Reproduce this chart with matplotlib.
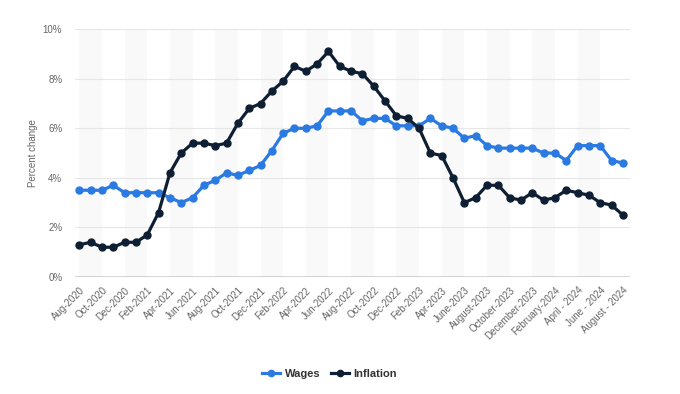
import matplotlib
matplotlib.use("Agg")
import matplotlib.pyplot as plt
import numpy as np

plt.rcParams['font.family'] = ['Liberation Sans', 'DejaVu Sans']

months = ['Aug-2020', 'Sep-2020', 'Oct-2020', 'Nov-2020', 'Dec-2020',
          'Jan-2021', 'Feb-2021', 'Mar-2021', 'Apr-2021', 'May-2021', 'Jun-2021',
          'Jul-2021', 'Aug-2021', 'Sep-2021', 'Oct-2021', 'Nov-2021', 'Dec-2021',
          'Jan-2022', 'Feb-2022', 'Mar-2022', 'Apr-2022', 'May-2022', 'Jun-2022',
          'Jul-2022', 'Aug-2022', 'Sep-2022', 'Oct-2022', 'Nov-2022', 'Dec-2022',
          'Jan-2023', 'Feb-2023', 'Mar-2023', 'Apr-2023', 'May-2023', 'June-2023',
          'July-2023', 'August-2023', 'September-2023', 'October-2023',
          'November-2023', 'December-2023', 'January-2024', 'February-2024',
          'March-2024', 'April - 2024', 'May - 2024', 'June - 2024',
          'July - 2024', 'August - 2024']

wages = [3.5, 3.5, 3.5, 3.7, 3.4,
         3.4, 3.4, 3.4, 3.2, 3.0, 3.2, 3.7, 3.9, 4.2, 4.1, 4.3, 4.5,
         5.1, 5.8, 6.0, 6.0, 6.1, 6.7, 6.7, 6.7, 6.3, 6.4, 6.4, 6.1,
         6.1, 6.1, 6.4, 6.1, 6.0, 5.6, 5.7, 5.3, 5.2, 5.2, 5.2, 5.2,
         5.0, 5.0, 4.7, 5.3, 5.3, 5.3, 4.7, 4.6]

inflation = [1.3, 1.4, 1.2, 1.2, 1.4,
             1.4, 1.7, 2.6, 4.2, 5.0, 5.4, 5.4, 5.3, 5.4, 6.2, 6.8, 7.0,
             7.5, 7.9, 8.5, 8.3, 8.6, 9.1, 8.5, 8.3, 8.2, 7.7, 7.1, 6.5,
             6.4, 6.0, 5.0, 4.9, 4.0, 3.0, 3.2, 3.7, 3.7, 3.2, 3.1, 3.4,
             3.1, 3.2, 3.5, 3.4, 3.3, 3.0, 2.9, 2.5]

y_ticks = [0, 2, 4, 6, 8, 10]

x = np.arange(len(months))

fig = plt.figure(figsize=(6.8, 3.94), dpi=100)
ax = fig.add_axes([0.110, 0.297, 0.816, 0.629])

# alternating background bands
for start in range(0, len(months) - 1, 4):
    ax.axvspan(start, start + 2, color='#f9f9f9', lw=0, zorder=0)

for t in y_ticks[1:]:
    ax.axhline(t, color='#e6e6e6', lw=0.8, zorder=1)
ax.axhline(0, color='#333333', lw=1.0, zorder=2)

ax.plot(x, wages, color='#2a7ae2', lw=2.3, marker='o', ms=5, zorder=3, label='Wages')
ax.plot(x, inflation, color='#0e1f33', lw=2.3, marker='o', ms=5, zorder=4, label='Inflation')

ax.set_xlim(-0.4, len(months) - 0.4)
ax.set_ylim(0, 10)
ax.set_yticks(y_ticks)
ax.set_yticklabels([f'{t}%' for t in y_ticks], color='#666666', fontsize=7)
ax.set_xticks(x[::2])
ax.set_xticklabels(months[::2], rotation=45, ha='right', rotation_mode='anchor',
                   color='#666666', fontsize=7)
ax.tick_params(axis='x', length=0, pad=6)
ax.tick_params(axis='y', length=0, pad=9)
ax.set_ylabel('Percent change', color='#666666', fontsize=7)
ax.yaxis.set_label_coords(-0.066, 0.5)

for s in ax.spines.values():
    s.set_visible(False)

leg = fig.legend(loc='center', bbox_to_anchor=(0.485, 0.05), ncol=2, frameon=False,
                 prop={'weight': 'bold', 'size': 8}, handlelength=1.6,
                 handletextpad=0.4, columnspacing=1.0, markerscale=0.9)
for t in leg.get_texts():
    t.set_color('#333333')

fig.savefig('out.png', dpi=100)
